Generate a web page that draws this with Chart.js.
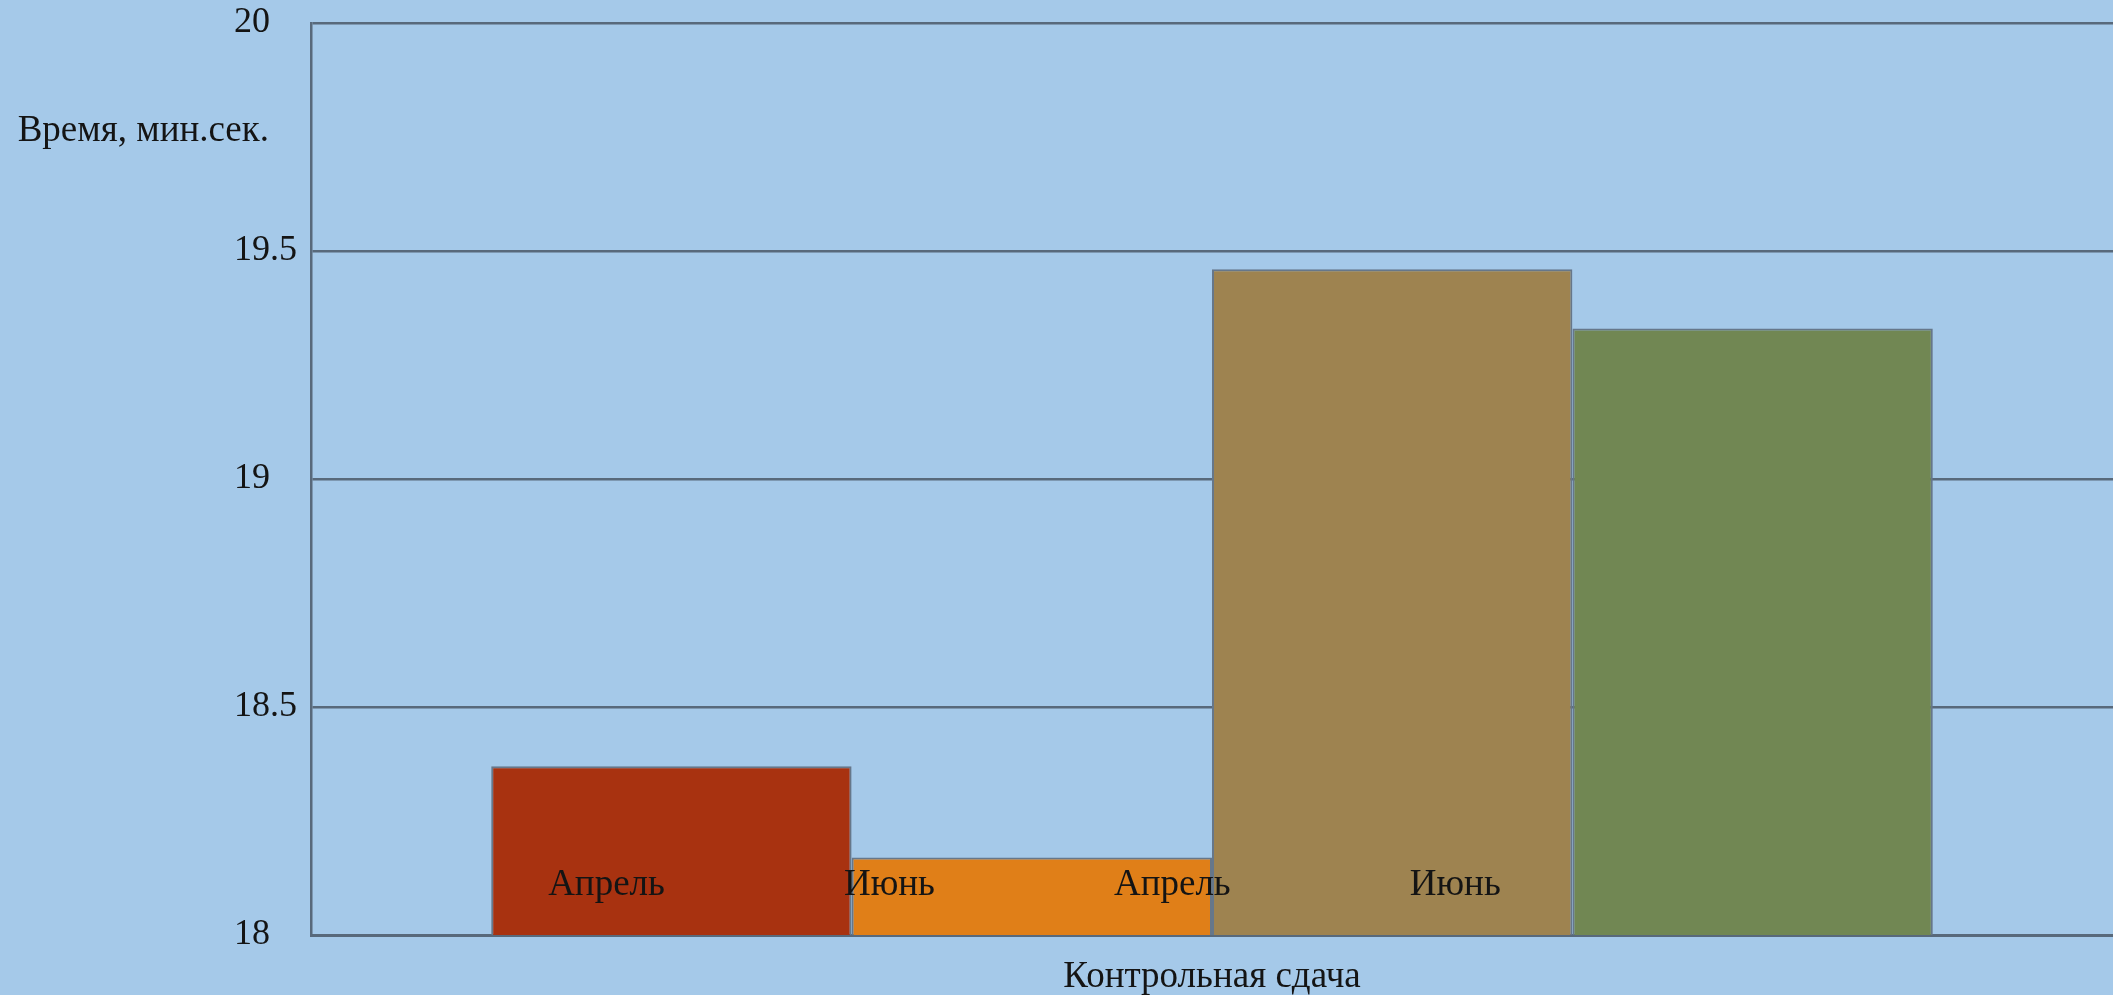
<!DOCTYPE html>
<html>
<head>
<meta charset="utf-8">
<script src="https://cdn.jsdelivr.net/npm/chart.js@4/dist/chart.umd.min.js"></script>
<style>
  html, body { margin: 0; padding: 0; background: #a5c9e9; overflow: hidden; }
  canvas { display: block; }
</style>
</head>
<body>
<canvas id="chart" width="2113" height="995"></canvas>
<script>
// --- data ---
const categories = ['Контрольная сдача'];
const seriesNames = ['Апрель', 'Июнь', 'Апрель', 'Июнь'];
const seriesValues = [18.37, 18.17, 19.46, 19.33];
const seriesColors = ['#a83210', '#e07f18', '#9e8350', '#718753'];
const yTicks = [18, 18.5, 19, 19.5, 20];
const yTitle = 'Время, мин.сек.';

const FONT = '"Liberation Serif", "DejaVu Serif", serif';
const INK = '#141414';
const GRID = '#58697b';

// подписи серий внутри области графика + заголовок оси Y слева сверху
const labelsPlugin = {
    id: 'seriesLabels',
    afterDatasetsDraw(chart) {
        const { ctx, chartArea, scales } = chart;
        const w = chartArea.right - chartArea.left;
        const base = scales.y.getPixelForValue(yTicks[0]);
        ctx.save();
        ctx.font = '37px ' + FONT;
        ctx.fillStyle = INK;
        ctx.textAlign = 'center';
        ctx.textBaseline = 'middle';
        chart.data.datasets.forEach((ds, i) => {
            const x = chartArea.left + (0.164 + 0.157 * i) * w;
            ctx.fillText(ds.label, x, base - 50);
        });
        // y title
        ctx.textAlign = 'right';
        ctx.fillText(yTitle, chartArea.left - 42, 131);
        ctx.restore();
    }
};

const datasets = seriesNames.map((name, i) => ({
    label: name,
    data: [seriesValues[i]],
    backgroundColor: seriesColors[i],
    borderColor: '#66778a',
    borderWidth: 2,
    barPercentage: 1.0,
    categoryPercentage: 0.8
}));

new Chart(document.getElementById('chart').getContext('2d'), {
    type: 'bar',
    data: { labels: categories, datasets: datasets },
    options: {
        responsive: false,
        animation: false,
        layout: { padding: { top: 23, right: 0, left: 234, bottom: 0 } },
        plugins: { legend: { display: false }, tooltip: { enabled: false } },
        scales: {
            x: {
                grid: { display: false, drawTicks: false },
                border: { display: true, color: GRID, width: 3 },
                ticks: { color: INK, font: { family: FONT, size: 37 }, padding: 20 },
                afterFit: s => { s.height = 60; s.paddingLeft = 0; s.paddingRight = 0; }
            },
            y: {
                min: 18,
                max: 20,
                afterBuildTicks: s => { s.ticks = yTicks.map(v => ({ value: v })); },
                grid: { color: GRID, lineWidth: 2.5, drawTicks: false },
                border: { display: true, color: GRID, width: 2.5 },
                ticks: {
                    color: INK,
                    font: { family: FONT, size: 36 },
                    padding: 12,
                    crossAlign: 'far',
                    callback: v => String(v)
                },
                afterFit: s => { s.width = 77; s.paddingTop = 0; s.paddingBottom = 0; }
            }
        }
    },
    plugins: [labelsPlugin]
});
</script>
</body>
</html>
